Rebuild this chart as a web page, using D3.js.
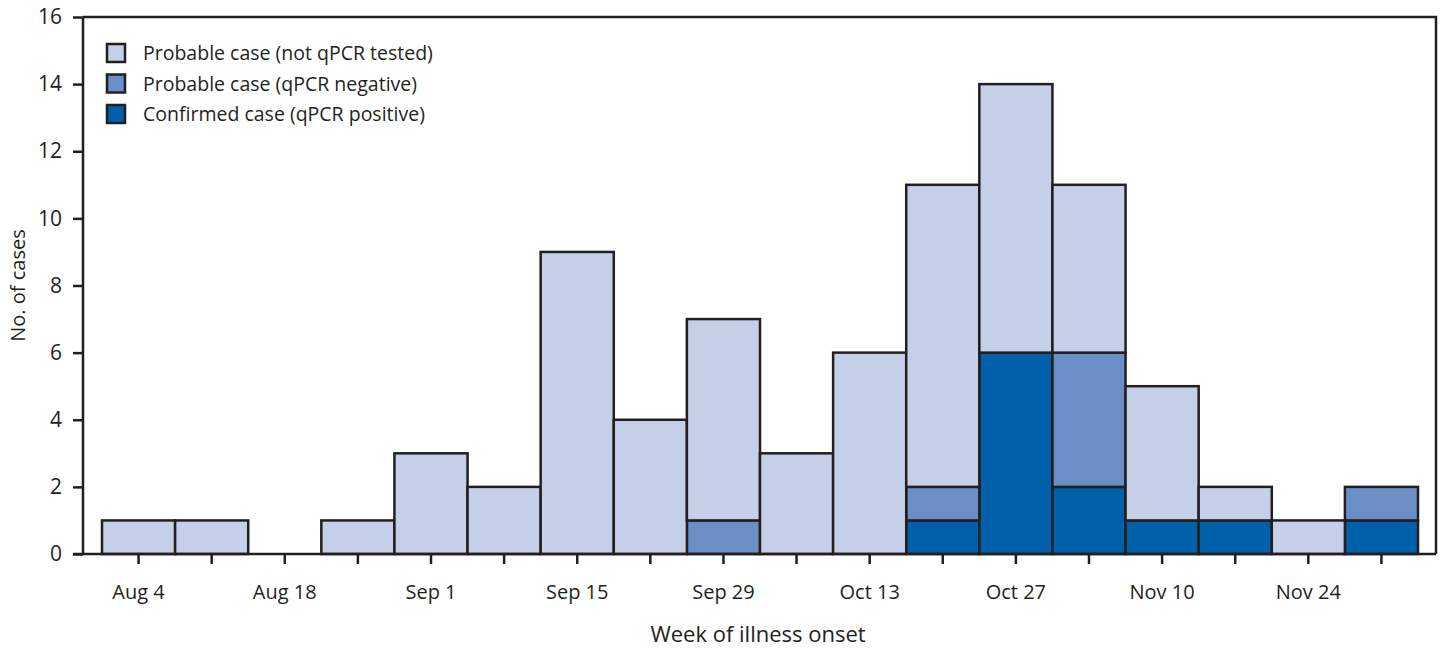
<!DOCTYPE html>
<html>
<head>
<meta charset="utf-8">
<script src="https://cdn.jsdelivr.net/npm/d3@7"></script>
<style>
  body { margin: 0; background: #fff; }
  svg text { font-family: "Open Sans", sans-serif; fill: #231f20; }
</style>
</head>
<body>
<div id="chart"></div>
<script>
// weekly bins, Aug 4 to Dec 1
var weeks = ["Aug 4", "Aug 11", "Aug 18", "Aug 25", "Sep 1", "Sep 8", "Sep 15", "Sep 22", "Sep 29",
  "Oct 6", "Oct 13", "Oct 20", "Oct 27", "Nov 3", "Nov 10", "Nov 17", "Nov 24", "Dec 1"];
var confirmed = [0, 0, 0, 0, 0, 0, 0, 0, 0, 0, 0, 1, 6, 2, 1, 1, 0, 1];
var negative  = [0, 0, 0, 0, 0, 0, 0, 0, 1, 0, 0, 1, 0, 4, 0, 0, 0, 1];
var untested  = [1, 1, 0, 1, 3, 2, 9, 4, 6, 3, 6, 9, 8, 5, 4, 1, 1, 0];
var labeledWeeks = ["Aug 4", "Aug 18", "Sep 1", "Sep 15", "Sep 29", "Oct 13", "Oct 27", "Nov 10", "Nov 24"];
var yTicks = [0, 2, 4, 6, 8, 10, 12, 14, 16];

var seriesNames = ["Confirmed case (qPCR positive)", "Probable case (qPCR negative)", "Probable case (not qPCR tested)"];
var colors = ["#0060aa", "#6a8fc7", "#c5cfe7"];

var W = 1443, H = 648;
var plotL = 83, plotR = 1436, plotT = 17, plotB = 554;
var ink = "#231f20";

var svg = d3.select("#chart").append("svg")
  .attr("width", W)
  .attr("height", H);

var x = d3.scaleBand()
  .domain(weeks)
  .range([plotL + 19, plotR - 18])
  .padding(0);

var y = d3.scaleLinear()
  .domain([0, 16])
  .range([plotB, plotT]);

var table = weeks.map(function (w, i) {
  return { week: w, c: confirmed[i], n: negative[i], u: untested[i] };
});
var stack = d3.stack().keys(["c", "n", "u"])(table);

// frame (top and right)
svg.append("path")
  .attr("d", "M" + plotL + "," + plotT + "H" + plotR + "V" + plotB)
  .attr("fill", "none")
  .attr("stroke", ink)
  .attr("stroke-width", 2.5);

// bars
stack.forEach(function (layer, k) {
  svg.append("g").selectAll("rect")
    .data(layer.filter(function (d) { return d[1] > d[0]; }))
    .enter().append("rect")
    .attr("x", function (d) { return x(d.data.week); })
    .attr("y", function (d) { return y(d[1]); })
    .attr("width", x.bandwidth())
    .attr("height", function (d) { return y(d[0]) - y(d[1]); })
    .attr("fill", colors[k])
    .attr("stroke", ink)
    .attr("stroke-width", 2.5);
});

// y axis
var yAxis = svg.append("g")
  .attr("transform", "translate(" + plotL + ",0)")
  .call(d3.axisLeft(y).tickValues(yTicks).tickSize(10).tickSizeOuter(0).tickPadding(11));

// x axis: tick at every week, label every other one
var xAxis = svg.append("g")
  .attr("transform", "translate(0," + plotB + ")")
  .call(d3.axisBottom(x).tickSize(10).tickSizeOuter(0).tickPadding(21)
    .tickFormat(function (d) { return labeledWeeks.indexOf(d) >= 0 ? d : ""; }));

[yAxis, xAxis].forEach(function (ax) {
  ax.selectAll(".domain, line").attr("stroke", ink).attr("stroke-width", 2.5);
  ax.selectAll("text").style("font-size", "20px").attr("fill", ink);
});
yAxis.selectAll("text").style("font-size", "21px");
yAxis.select(".domain").attr("d", "M0," + plotT + "V" + plotB);
xAxis.select(".domain").attr("d", "M" + (plotL - 10) + ",0H" + plotR);

// axis titles
svg.append("text")
  .attr("transform", "translate(25," + ((plotT + plotB) / 2) + ") rotate(-90)")
  .attr("text-anchor", "middle")
  .style("font-size", "20px")
  .text("No. of cases");

svg.append("text")
  .attr("x", 758)
  .attr("y", 642)
  .attr("text-anchor", "middle")
  .style("font-size", "22px")
  .text("Week of illness onset");

// legend, lightest first
var legendOrder = [2, 1, 0];
var legend = svg.append("g").attr("transform", "translate(107,44)");
legendOrder.forEach(function (k, i) {
  var g = legend.append("g").attr("transform", "translate(0," + (i * 30.5) + ")");
  g.append("rect")
    .attr("width", 18).attr("height", 18)
    .attr("fill", colors[k])
    .attr("stroke", ink)
    .attr("stroke-width", 2.5);
  g.append("text")
    .attr("x", 36).attr("y", 16)
    .style("font-size", "19.5px")
    .text(seriesNames[k]);
});
</script>
</body>
</html>
